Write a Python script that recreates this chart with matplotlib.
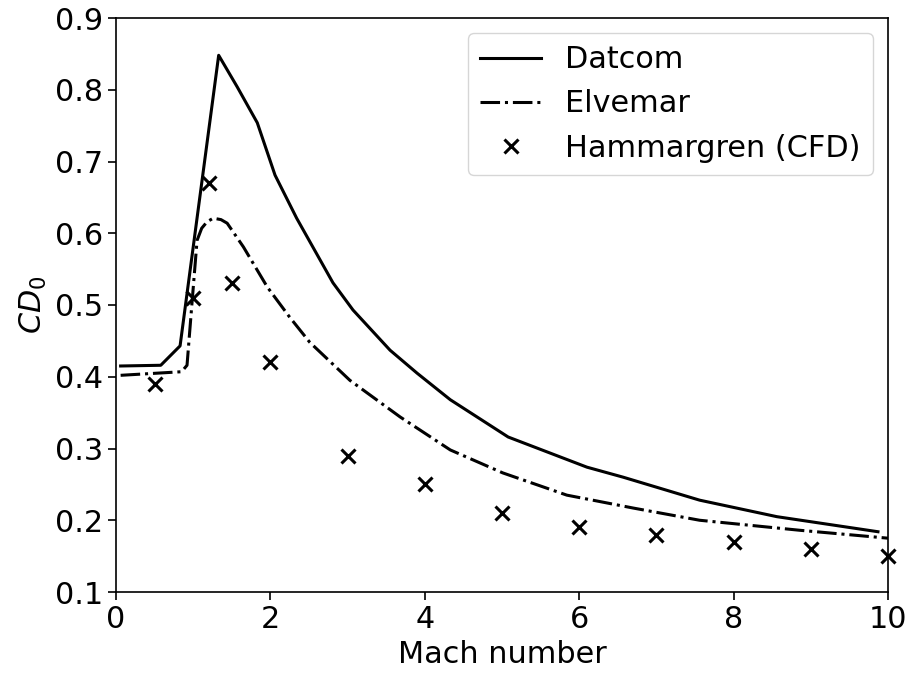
import matplotlib
matplotlib.use("Agg")
import matplotlib.pyplot as plt

plt.rcParams['font.family'] = ['DejaVu Sans']
plt.rcParams['mathtext.fontset'] = 'dejavusans'

datcom_m = [0.06, 0.58, 0.83, 1.33, 1.57, 1.83, 2.06, 2.34, 2.81, 3.07, 3.55, 3.9, 4.33, 5.08, 6.1, 6.57, 7.56, 8.56, 9.87]
datcom_cd = [0.415, 0.416, 0.443, 0.848, 0.804, 0.754, 0.681, 0.621, 0.531, 0.493, 0.437, 0.405, 0.368, 0.316, 0.274, 0.26, 0.228, 0.205, 0.184]

elv_m = [0.06, 0.85, 0.92, 0.98, 1.05, 1.11, 1.18, 1.26, 1.36, 1.44, 1.65, 1.96, 2.25, 2.51, 3.03, 3.68, 4.33, 5.01, 5.84, 6.7, 7.56, 8.86, 10.0]
elv_cd = [0.402, 0.407, 0.416, 0.497, 0.59, 0.607, 0.616, 0.621, 0.619, 0.614, 0.581, 0.525, 0.483, 0.448, 0.395, 0.344, 0.298, 0.266, 0.235, 0.217, 0.2, 0.186, 0.175]

ham_m = [0.5, 1.0, 1.2, 1.5, 2, 3, 4, 5, 6, 7, 8, 9, 10]
ham_cd = [0.39, 0.51, 0.67, 0.53, 0.42, 0.29, 0.25, 0.21, 0.19, 0.18, 0.17, 0.16, 0.15]

fs = 21.8
fig = plt.figure(figsize=(9.1, 6.77), dpi=100)
ax = fig.add_axes([116/910, 1-592/677, (888-116)/910, (592-18)/677])
ax.plot(datcom_m, datcom_cd, 'k-', lw=2.2, label='Datcom')
ax.plot(elv_m, elv_cd, 'k-.', lw=2.2, label='Elvemar')
ax.plot(ham_m, ham_cd, 'kx', ms=10, mew=2.2, ls='none', label='Hammargren (CFD)', clip_on=False)
ax.set_xlim(0, 10)
ax.set_ylim(0.1, 0.9)
ax.set_xticks([0, 2, 4, 6, 8, 10])
ax.set_yticks([0.1, 0.2, 0.3, 0.4, 0.5, 0.6, 0.7, 0.8, 0.9])
ax.tick_params(labelsize=fs, width=1.2, length=6)
for s in ax.spines.values():
    s.set_linewidth(1.2)
ax.set_xlabel('Mach number', fontsize=fs)
ax.set_ylabel('$CD_0$', fontsize=fs)
ax.legend(loc='upper right', fontsize=fs)
fig.savefig('out.png', dpi=100)
